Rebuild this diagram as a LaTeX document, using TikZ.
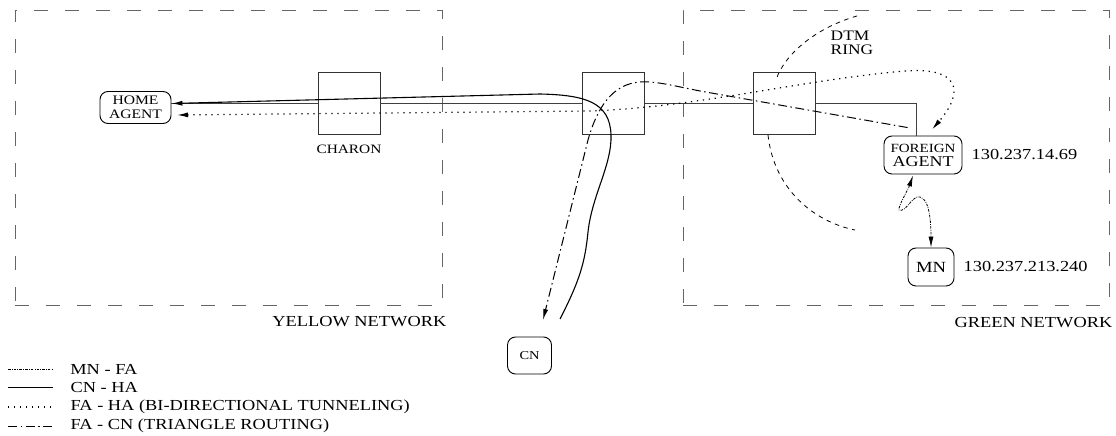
\documentclass[tikz,border=0pt]{standalone}
\usepackage{fontspec}
\setmainfont[FakeStretch=1.2]{Liberation Serif}
\usetikzlibrary{arrows.meta,calc,positioning}
\tikzset{
    net diagram/.style = {x=1pt, y=-1pt, >={Latex[length=11pt, width=5pt]}},
    enclosure/.style   = {draw=black!60, line width=0.9pt, inner sep=0pt,
                          dash pattern=on 14pt off 17pt},
    router/.style      = {draw=black!80, line width=0.9pt,
                          minimum size=62pt, inner sep=0pt},
    agent/.style       = {draw, line width=0.9pt, rounded corners=8pt,
                          align=center, inner sep=0pt},
    backbone/.style    = {draw=black!75, line width=0.9pt},
    cnha/.style        = {line width=1.1pt},
    faha/.style        = {line width=1.2pt, dash pattern=on 1.3pt off 4.7pt},
    facn/.style        = {line width=1pt,
                          dash pattern=on 9pt off 3.5pt on 1.5pt off 3.5pt},
    mnfa/.style        = {line width=0.8pt,
                          dash pattern=on 2.5pt off 1.2pt on 0.8pt off 1.2pt},
    ring/.style        = {line width=0.8pt, dash pattern=on 4.5pt off 4.5pt},
    netlabel/.style    = {font=\figsize{15.3}, inner sep=0pt},
    legendtext/.style  = {font=\figsize{15.3}, inner sep=0pt}
}
\newcommand{\figsize}[1]{\fontsize{#1}{#1}\selectfont}

\begin{document}
\begin{tikzpicture}[net diagram]
\useasboundingbox (0,0) rectangle (1116,436);

% The two networks.
\node[enclosure, minimum width=427pt, minimum height=295pt]
    (yellow) at (228.5,157.5) {};
\node[enclosure, minimum width=426pt, minimum height=295pt]
    (green) at (896,157.5) {};
\node[netlabel, anchor=east] (yellowlabel)
    at ($(yellow.south east)+(4,16)$) {YELLOW NETWORK};
\node[netlabel, anchor=east] (greenlabel)
    at ($(green.south east)+(3,17)$) {GREEN NETWORK};

% Routers along the backbone.
\node[router] (charon) at (349,103.5) {};
\node[router] (relay) at (613.5,103.5) {};
\node[router] (dtm) at (784,103.5) {};
\node[netlabel, font=\figsize{12.8}, below=10pt of charon]
    (charonlabel) {CHARON};

% Agents and hosts.
\node[agent, minimum width=71pt, minimum height=32pt,
      font=\fontsize{13}{13.5}\selectfont]
    (ha) at (135.5,107.5) {HOME\\AGENT};
\node[agent, minimum width=78pt, minimum height=38pt,
      font=\fontsize{15}{14}\selectfont]
    (fa) at (923,155) {{\fontsize{12.5}{14}\selectfont FOREIGN}\\AGENT};
\node[agent, minimum width=46pt, minimum height=38pt, font=\figsize{15.5}]
    (mn) at (931,267) {MN};
\node[agent, minimum width=44pt, minimum height=37pt, font=\figsize{12}]
    (cn) at (529.5,355.5) {CN};
\node[netlabel, right=9pt of fa] (faaddr) {130.237.14.69};
\node[netlabel, right=9pt of mn] (mnaddr) {130.237.213.240};
\node[netlabel, align=left, font=\fontsize{14.5}{14}\selectfont]
    (ringlabel) at (852,43) {DTM\\RING};

% Backbone from the home agent to the foreign agent.
\coordinate (fadrop) at (916,103.5);
\draw[backbone] (ha.east |- charon) -- (charon.west);
\draw[backbone] (charon.east) -- (relay.west);
\draw[backbone] (relay.east) -- (dtm.west);
\draw[backbone] (dtm.east) -- (fadrop) -- (fadrop |- fa.north);

% DTM ring, hidden behind the router.
\draw[ring] (857,16) .. controls (815,28) and (784,55) .. (776,80);
\draw[ring] (768,135) .. controls (774,190) and (815,222) .. (855,230);

% CN - HA.
\coordinate (cnout) at (560,319);
\draw[->, cnha] (cnout) .. controls (580,280) and (585,262) .. (588,232)
    .. controls (592,195) and (612,165) .. (611,135)
    .. controls (610,102) and (585,95) .. (540,94) -- (ha.east |- charon);

% FA - HA, tunnel in both directions.
\coordinate (hain) at (177,115);
\draw[<->, faha] (hain) -- (590,111)
    .. controls (700,107) and (800,80) .. (905,71)
    .. controls (958,67) and (966,90) .. ($(fa.north)+(9,-6)$);

% FA - CN, triangle routing.
\coordinate (cnin) at (543,320);
\draw[->, facn] ($(fa.north west)+(24,-8)$) -- (700,91)
    .. controls (670,85) and (655,81) .. (640,82)
    .. controls (612,84) and (597,108) .. (588,140) -- (cnin);

% MN - FA.
\draw[<->, mnfa] ($(fa.south)+(-10,1)$)
    .. controls (908,190) and (898,206) .. (899,210)
    .. controls (906,213) and (912,195) .. (920,197)
    .. controls (930,199) and (931,225) .. (mn.north);

% Legend.
\coordinate (legend) at (8,369);
\draw[mnfa] (legend) -- ++(45,0)
    node[legendtext, right=17pt] (legmnfa) {MN - FA};
\draw[cnha] ($(legend)+(0,18.5)$) -- ++(45,0)
    node[legendtext, right=17pt] (legcnha) {CN - HA};
\draw[faha] ($(legend)+(0,38)$) -- ++(45,0)
    node[legendtext, right=17pt] (legfaha) {FA - HA (BI-DIRECTIONAL TUNNELING)};
\draw[facn] ($(legend)+(0,57)$) -- ++(45,0)
    node[legendtext, right=17pt] (legfacn) {FA - CN (TRIANGLE ROUTING)};

\end{tikzpicture}
\end{document}
